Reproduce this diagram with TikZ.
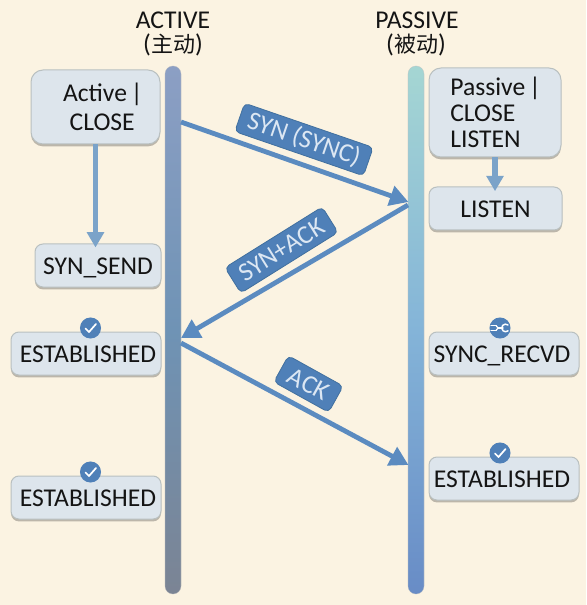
\documentclass[tikz,border=0pt]{standalone}
\usepackage{fontspec}
\setmainfont{Carlito}
\newfontfamily\cjkfont{Noto Sans CJK SC}
\usetikzlibrary{arrows.meta,shadows,calc}
\definecolor{bgc}{HTML}{FBF3E2}
\definecolor{boxfill}{HTML}{DDE5EC}
\definecolor{boxline}{HTML}{B9C0C0}
\definecolor{msgc}{HTML}{5B8BC0}
\definecolor{stepc}{HTML}{7BA3C9}
\definecolor{tagc}{HTML}{4F80B8}
\definecolor{tagline}{HTML}{41709F}
\definecolor{tagtext}{HTML}{DCE7F3}
\definecolor{inkc}{HTML}{141414}
\definecolor{lifeAt}{HTML}{8C9FC4}
\definecolor{lifeAm}{HTML}{6F93B5}
\definecolor{lifeAb}{HTML}{7B8494}
\definecolor{lifePt}{HTML}{A5D6D3}
\definecolor{lifePm}{HTML}{84B4D8}
\definecolor{lifePb}{HTML}{688CC6}
\tikzset{
  x=0.75pt,y=-0.75pt,
  mainfont/.style={font=\fontsize{19.2pt}{21pt}\selectfont},
  statebox/.style={draw=boxline,line width=0.75pt,fill=boxfill,rounded corners=6pt,
    text=inkc,inner sep=0pt,mainfont,
    drop shadow={shadow xshift=0pt,shadow yshift=-1.8pt,opacity=.45,fill=black!55!bgc}},
  oneline/.style={statebox,minimum height=32.25pt,text height=14pt,text depth=0pt},
  lifeline/.style={draw=black!25,draw opacity=.5,line width=0.4pt,rounded corners=5.9pt,
    minimum width=12pt,minimum height=396pt,inner sep=0pt},
  msgline/.style={draw=msgc,line width=3.6pt,-{Triangle[length=14pt,width=15pt,fill=msgc]}},
  stepline/.style={draw=stepc,line width=3.8pt,-{Triangle[length=11.5pt,width=12.5pt,fill=stepc]}},
  tagbox/.style={draw=tagline,line width=0.6pt,fill=tagc,rounded corners=3.5pt,text=tagtext,
    inner sep=0pt,minimum height=22.5pt,font=\fontsize{19.5pt}{21pt}\selectfont},
  badge/.style={circle,fill=tagc,minimum size=15.8pt,inner sep=0pt},
  title/.style={align=center,text=inkc,inner sep=0pt,mainfont},
  iconline/.style={draw=white,line width=1pt,line cap=round,line join=round}
}
\begin{document}
\begin{tikzpicture}
\useasboundingbox (0,0) rectangle (586,605);
\fill[bgc] (0,0) rectangle (586,605);

% titles
\node[title] (tactive) at (173,20) {ACTIVE};
\node[title] (cactive) at (173,45) {({\cjkfont\fontsize{16.5pt}{20pt}\selectfont 主动})};
\node[title] (tpassive) at (417,20) {PASSIVE};
\node[title] (cpassive) at (416,45) {({\cjkfont\fontsize{16.5pt}{20pt}\selectfont 被动})};

% lifelines
\node[lifeline,top color=lifeAt,bottom color=lifeAb,middle color=lifeAm] (la) at (173,330) {};
\node[lifeline,top color=lifePt,bottom color=lifePb,middle color=lifePm] (lp) at (416,330) {};

% state boxes
\node[statebox,minimum width=96.75pt,minimum height=55.5pt,rounded corners=9pt,align=left,text width=96.75pt] (aclose) at (95.5,107)
  {\hspace*{24pt}{\spaceskip=3pt Active |}\\[0.5pt]\hspace*{29pt}CLOSE};
\node[oneline,minimum width=94.5pt] (synsend) at (98,265.5) {SYN\_SEND};
\node[oneline,minimum width=112.5pt] (est1) at (86,353.5) {\hspace*{3pt}ESTABLISHED};
\node[oneline,minimum width=112.5pt] (est2) at (86,497.5) {\hspace*{3pt}ESTABLISHED};
\node[statebox,minimum width=99pt,minimum height=66.75pt,rounded corners=9pt,align=left,text width=99pt] (pclose) at (495,112.5)
  {\hspace*{16pt}{\spaceskip=3pt Passive |}\\[-1.5pt]\hspace*{16pt}CLOSE\\[-1.5pt]\hspace*{16pt}LISTEN};
\node[oneline,minimum width=99.75pt] (listen) at (495.5,208.5) {LISTEN};
\node[oneline,minimum width=112.5pt] (recvd) at (504,353.5) {SYNC\_RECVD\hspace*{3pt}};
\node[oneline,minimum width=112.5pt] (est3) at (504,478.5) {ESTABLISHED\hspace*{3pt}};

% badges
\foreach \nm/\px/\py in {b1/90.5/328,b2/90.5/472,b4/500/453}{
  \node[badge] (\nm) at (\px,\py) {};
  \draw[iconline,line width=1.3pt] ($(\nm)+(-5,0.5)$) -- ($(\nm)+(-1.5,4)$) -- ($(\nm)+(5.5,-4)$);
}
\node[badge] (b3) at (500,328) {};
\draw[iconline,line width=.9pt] ($(b3)+(-9,-2.5)$) -- ($(b3)+(-4,-2.5)$);
\draw[iconline,line width=.9pt] ($(b3)+(-9,2.5)$) -- ($(b3)+(-4,2.5)$);
\draw[iconline,line width=.9pt] ($(b3)+(-4,-2.5)$) -- ($(b3)+(-2,0)$) -- ($(b3)+(-4,2.5)$);
\draw[iconline,line width=1.1pt] ($(b3)+(-2,0)$) -- ($(b3)+(3,0)$);
\draw[iconline,line width=1.1pt] ($(b3)+(8,-3)$) arc[start angle=-50,end angle=-310,radius=3.8];

% anchor points on the lifelines
\coordinate (a1) at (181,122);
\coordinate (p1) at (408.5,202);
\coordinate (p2) at (408,205);
\coordinate (a2) at (181,338);
\coordinate (a3) at (181,343);
\coordinate (p3) at (408.5,465);

% connectors
\draw[stepline,shorten >=-3pt] (aclose.south) -- (aclose.south |- synsend.north);
\draw[stepline,shorten >=-3.5pt] (pclose.south) -- (pclose.south |- listen.north);
\draw[msgline] (a1) -- (p1);
\draw[msgline] (p2) -- (a2);
\draw[msgline] (a3) -- (p3);

% message tags
\node[tagbox,minimum width=102pt,rotate=-19] (tsyn) at (304,139.5) {SYN (SYNC)};
\node[tagbox,minimum width=86pt,rotate=32] (tsynack) at (281.5,250) {SYN+ACK};
\node[tagbox,minimum width=47pt,rotate=-29] (tack) at (308.5,384) {ACK};
\end{tikzpicture}
\end{document}
